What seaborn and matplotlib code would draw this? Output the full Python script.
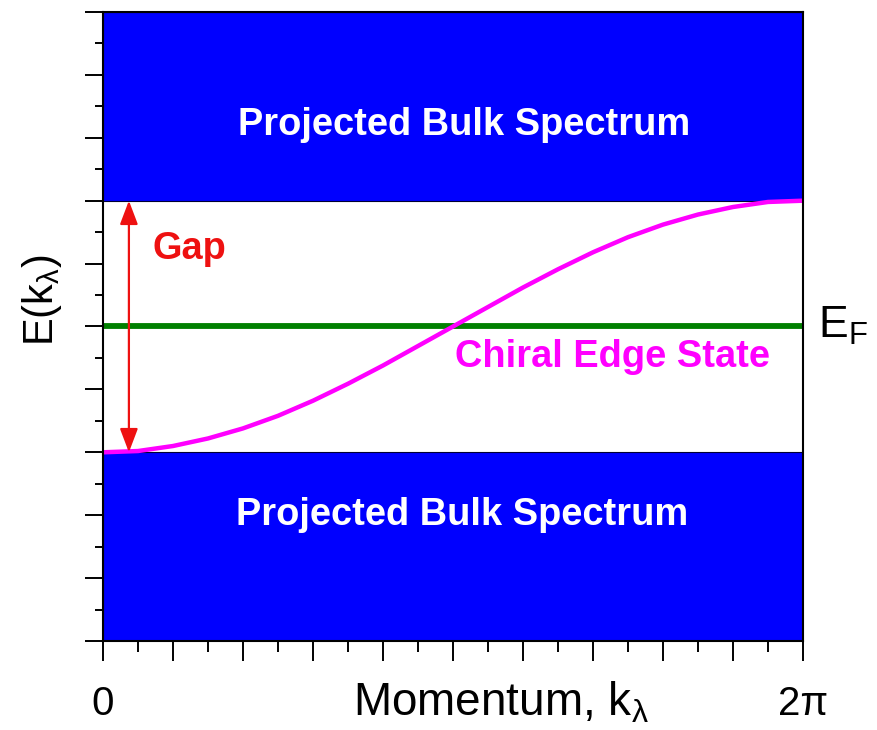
import matplotlib
matplotlib.use("Agg")
import matplotlib.pyplot as plt
import seaborn as sns
import numpy as np
import pandas as pd

# ---- data ----
k_values = [0, 0.5, 1, 1.5, 2, 2.5, 3, 3.5, 4, 4.5, 5, 5.5, 6, 6.5, 7, 7.5, 8, 8.5, 9, 9.5, 10]
edge_energy = [3.00, 3.02, 3.10, 3.22, 3.38, 3.58, 3.82, 4.09, 4.38, 4.69, 5.00,
               5.31, 5.62, 5.91, 6.18, 6.42, 6.62, 6.78, 6.90, 6.98, 7.00]
fermi_k = [0, 10]
fermi_energy = [5, 5]
lower_bulk = [0, 3]
upper_bulk = [7, 10]
gap_range = [3, 7]
x_tick_positions = [0, 1, 2, 3, 4, 5, 6, 7, 8, 9, 10]
x_tick_labels = ["0", "", "", "", "", "", "", "", "", "", "2π"]

sns.set_theme(style="ticks")
plt.rcParams["font.family"] = ["Liberation Sans", "DejaVu Sans"]
plt.rcParams["mathtext.fontset"] = "custom"
plt.rcParams["mathtext.rm"] = "Liberation Sans"
plt.rcParams["mathtext.it"] = "Liberation Sans:italic"
plt.rcParams["mathtext.bf"] = "Liberation Sans:bold"

fig = plt.figure(figsize=(8.77, 7.30), dpi=100)
ax = fig.add_axes([0.11745, 0.12192, 0.79818, 0.86164])
ax.set_xlim(0, 10)
ax.set_ylim(0, 10)

# bulk bands
for band in (lower_bulk, upper_bulk):
    ax.fill_between(fermi_k, band[0], band[1], color="#0000ff",
                    edgecolor="#000033", linewidth=0.8, zorder=1)

curve_df = pd.DataFrame({"k": k_values, "E": edge_energy})
fermi_df = pd.DataFrame({"k": fermi_k, "E": fermi_energy})
sns.lineplot(data=fermi_df, x="k", y="E", color="#008000", linewidth=4.2,
             ax=ax, zorder=3)
sns.lineplot(data=curve_df, x="k", y="E", color="#ff00ff", linewidth=3.2,
             ax=ax, zorder=4, sort=False)

# gap arrow
ax.annotate("", xy=(0.37, gap_range[1]), xytext=(0.37, gap_range[0]),
            arrowprops=dict(arrowstyle="<|-|>,head_length=1.45,head_width=0.55",
                            color="#ee1111", lw=1.6, shrinkA=0, shrinkB=0,
                            mutation_scale=10), zorder=5)

bold = dict(fontsize=27.4, fontweight="bold")
ax.text(5.16, 8.04, "Projected Bulk Spectrum", color="white", ha="center",
        va="baseline", zorder=6, **bold)
ax.text(5.13, 1.84, "Projected Bulk Spectrum", color="white", ha="center",
        va="baseline", zorder=6, **bold)
ax.text(1.24, 6.07, "Gap", color="#ee1111", ha="center", va="baseline",
        zorder=6, **bold)
ax.text(7.28, 4.36, "Chiral Edge State", color="#ff00ff", ha="center",
        va="baseline", zorder=6, **bold)
ax.text(10.21, 4.82, r"E$_\mathregular{F}$", color="black", ha="left",
        va="baseline", fontsize=32, clip_on=False)

# axes labels
ax.set_xlabel(r"Momentum, k$_\mathregular{λ}$", fontsize=33, color="black")
ax.set_ylabel(r"E(k$_\mathregular{λ}$)", fontsize=30, color="black")
ax.xaxis.set_label_coords(0.569, -0.098)
ax.yaxis.set_label_coords(-0.087, 0.542)
ax.xaxis.label.set_va("center")
ax.yaxis.label.set_va("center")

# ticks
ax.set_xticks(x_tick_positions)
ax.set_xticklabels(x_tick_labels, fontsize=29)
ax.set_xticks(np.arange(0.5, 10, 1), minor=True)
ax.set_yticks(np.arange(0, 11, 1))
ax.set_yticklabels([])
ax.set_yticks(np.arange(0.5, 10, 1), minor=True)
ax.tick_params(axis="x", which="major", direction="out", length=14.4, width=1.4,
               color="black", pad=17, labelcolor="black")
ax.tick_params(axis="x", which="minor", direction="out", length=8, width=1.4, color="black")
ax.tick_params(axis="y", which="major", direction="out", length=12.7, width=1.4, color="black")
ax.tick_params(axis="y", which="minor", direction="out", length=6, width=1.4, color="black")

for s in ax.spines.values():
    s.set_visible(True)
    s.set_color("black")
    s.set_linewidth(1.5)
    s.set_zorder(7)

ax.grid(False)
fig.savefig("out.png", dpi=100)
